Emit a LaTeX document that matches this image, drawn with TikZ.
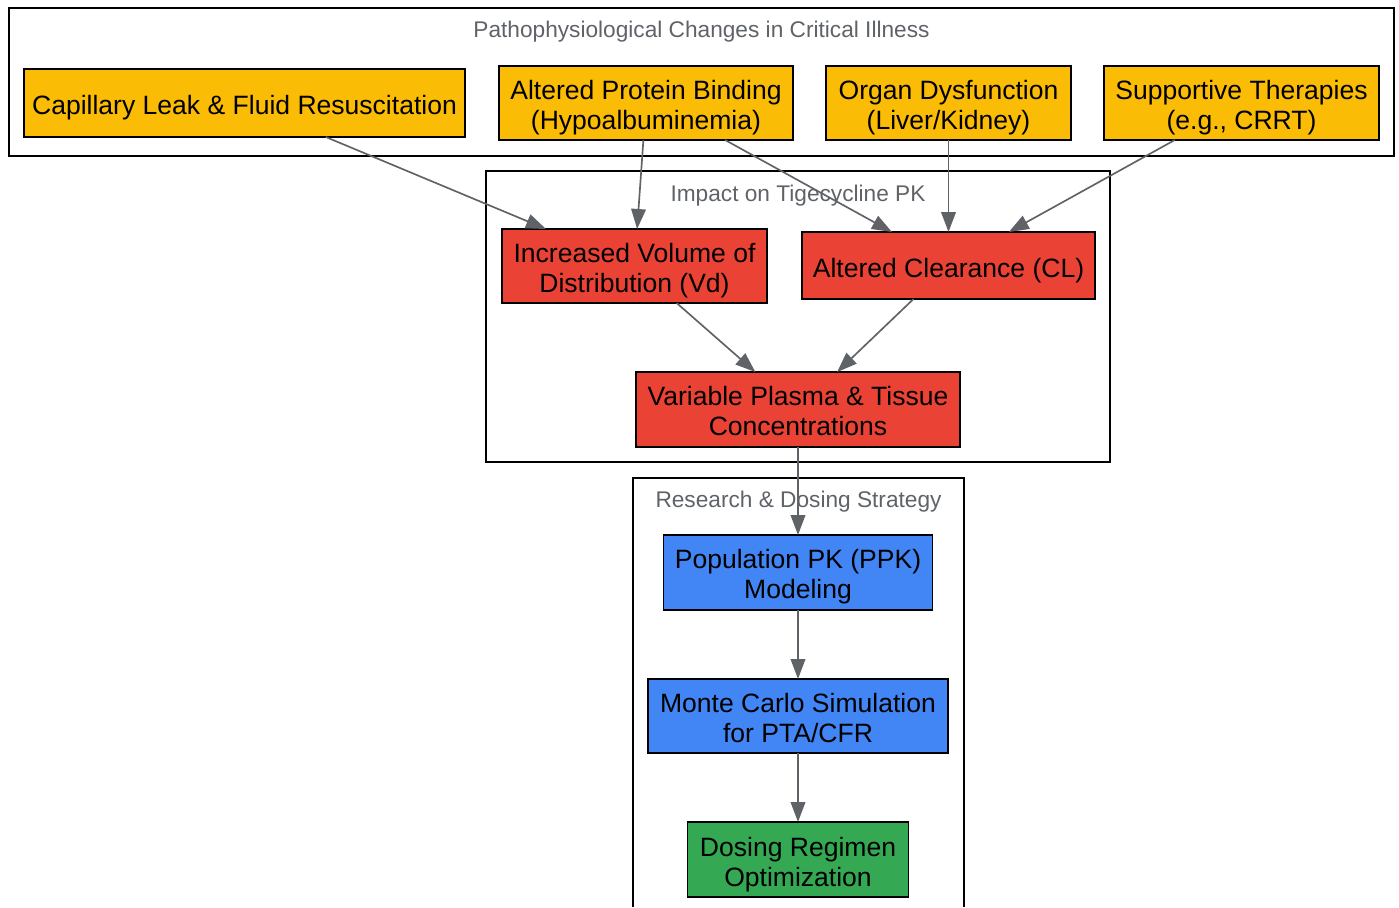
\documentclass[tikz,border=0pt]{standalone}
\usepackage{fontspec}
\setmainfont{Liberation Sans}
\usetikzlibrary{arrows.meta,calc}
\definecolor{gyellow}{HTML}{FBBC05}
\definecolor{gred}{HTML}{EA4335}
\definecolor{gblue}{HTML}{4285F4}
\definecolor{ggreen}{HTML}{34A853}
\definecolor{ggray}{HTML}{5F6368}
\tikzset{
  box/.style={draw=black, line width=1.1pt, inner sep=0pt, outer sep=0pt},
  txt/.style={align=center, inner sep=0pt, font=\fontsize{19.9}{22.5}\selectfont, text=black},
  cluster/.style={draw=black, line width=1.1pt},
  clabel/.style={text=ggray, font=\fontsize{17}{20}\selectfont, inner sep=0pt},
  conn/.style={draw=ggray, line width=1.25pt, -{Triangle[length=15pt,width=11pt]}}
}
\begin{document}
\begin{tikzpicture}[x=0.75pt,y=-0.75pt]
\useasboundingbox (0,0) rectangle (1399,907);
% clusters
\draw[cluster] (9,8) rectangle (1394,156);
\draw[cluster] (486,171) rectangle (1110,462);
\draw[cluster] (633,907) -- (633,478) -- (964,478) -- (964,907);
\node[clabel] (l1) at (701.5,32) {Pathophysiological Changes in Critical Illness};
\node[clabel] (l2) at (798,196) {Impact on Tigecycline PK};
\node[clabel] (l3) at (798.5,502) {Research \& Dosing Strategy};
% nodes
\node[box, fill=gyellow, minimum width=330.75pt, minimum height=51pt] (cap) at (244.5,103) {};
\node[box, fill=gyellow, minimum width=220.5pt, minimum height=55.5pt] (prot) at (646,103) {};
\node[box, fill=gyellow, minimum width=183.75pt, minimum height=55.5pt] (org) at (948.5,103) {};
\node[box, fill=gyellow, minimum width=206.25pt, minimum height=55.5pt] (sup) at (1241.5,103) {};
\node[box, fill=gred, minimum width=198.75pt, minimum height=55.5pt] (vd) at (634.5,266) {};
\node[box, fill=gred, minimum width=219.75pt, minimum height=50.25pt] (cl) at (948.5,265.5) {};
\node[box, fill=gred, minimum width=243pt, minimum height=56.25pt] (var) at (798,409.5) {};
\node[box, fill=gblue, minimum width=201.75pt, minimum height=56.25pt] (ppk) at (798,572.5) {};
\node[box, fill=gblue, minimum width=225pt, minimum height=55.5pt] (mc) at (798,716) {};
\node[box, fill=ggreen, minimum width=165.75pt, minimum height=56.25pt] (dose) at (798,859.5) {};
% texts
\node[txt] (capt) at ([yshift=-3.75pt]cap.center) {Capillary Leak \& Fluid Resuscitation};
\node[txt] (prott) at ([yshift=-3.75pt]prot.center) {Altered Protein Binding\\(Hypoalbuminemia)};
\node[txt] (orgt) at ([yshift=-3.75pt]org.center) {Organ Dysfunction\\(Liver/Kidney)};
\node[txt] (supt) at ([yshift=-3.75pt]sup.center) {Supportive Therapies\\(e.g., CRRT)};
\node[txt] (vdt) at ([yshift=-3.75pt]vd.center) {Increased Volume of\\Distribution (Vd)};
\node[txt] (clt) at ([yshift=-3.75pt]cl.center) {Altered Clearance (CL)};
\node[txt] (vart) at ([yshift=-1.5pt]var.center) {Variable Plasma \& Tissue\\Concentrations};
\node[txt] (ppkt) at ([yshift=-3pt]ppk.center) {Population PK (PPK)\\Modeling};
\node[txt] (mct) at ([yshift=-1.5pt]mc.center) {Monte Carlo Simulation\\for PTA/CFR};
\node[txt] (doset) at ([yshift=-3.75pt]dose.center) {Dosing Regimen\\Optimization};
% edges
\draw[conn] (cap) -- (vd);
\draw[conn] (prot) -- (vd);
\draw[conn] ($(prot.south west)!0.769!(prot.south east)$) -- ($(cl.north west)!0.307!(cl.north east)$);
\draw[conn] (org) -- (cl);
\draw[conn] (sup) -- (cl);
\draw[conn] (vd) -- (var);
\draw[conn] (cl) -- (var);
\draw[conn] (var) -- (ppk);
\draw[conn] (ppk) -- (mc);
\draw[conn] (mc) -- (dose);
\end{tikzpicture}
\end{document}
